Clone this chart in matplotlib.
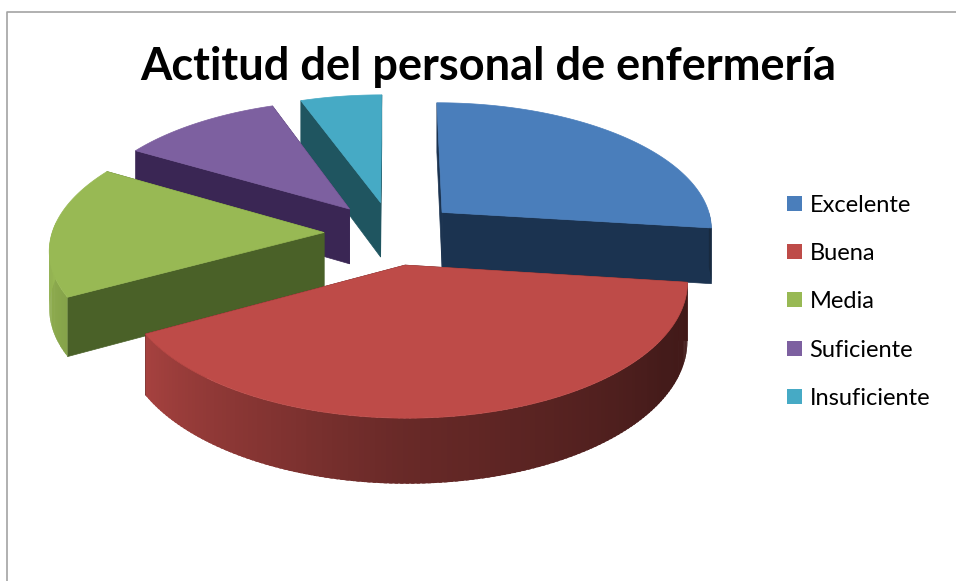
import numpy as np
import matplotlib
matplotlib.use("Agg")
import matplotlib.pyplot as plt
from matplotlib.patches import Rectangle

title = "Actitud del personal de enfermería"
categories = ["Excelente", "Buena", "Media", "Suficiente", "Insuficiente"]
values = [27, 40, 16.5, 11, 5.5]
top_colors = ["#4a7ebb", "#be4b48", "#98b954", "#7d60a0", "#46aac5"]
cut_colors = ["#1b3350", "#431515", "#4a6128", "#3a2654", "#1f5560"]

# pie geometry in pixels
CX, CY = 392, 233
RX, RY = 272, 127
DEPTH = 56
PERSP = 0.117
EXPLODE = 0.25

# rim shading against the angle, clockwise from the top
shade_angle = [90, 120, 180, 241, 275]
shade_level = [0.33, 0.36, 0.55, 0.88, 1.0]


def project(x, y, z=0.0):
    s = 1 / (1 - PERSP * y)
    return CX + RX * x * s, CY + RY * y * s + DEPTH * z * s


def rim_point(x0, y0, theta):
    return x0 + np.sin(theta), y0 - np.cos(theta)


def shaded(color, level):
    rgb = np.array(matplotlib.colors.to_rgb(color))
    return tuple(np.clip(rgb * level, 0, 1))


def draw_cut(ax, x0, y0, theta, color):
    xr, yr = rim_point(x0, y0, theta)
    corners = [project(x0, y0), project(xr, yr), project(xr, yr, 1), project(x0, y0, 1)]
    px, py = zip(*corners)
    ax.fill(px, py, color=color, lw=0.5, zorder=2)


def draw_rim(ax, x0, y0, start, end, top):
    # only the part of the rim facing the viewer
    lo, hi = max(start, 90), min(end, 275)
    if hi <= lo:
        return
    steps = np.radians(np.linspace(lo, hi, int(hi - lo) + 2))
    step = steps[1] - steps[0]
    for t0 in steps[:-1]:
        # each strip runs under the next one so no seams show
        t1 = min(t0 + 1.6 * step, steps[-1])
        xa, ya = rim_point(x0, y0, t0)
        xb, yb = rim_point(x0, y0, t1)
        quad = [project(xa, ya), project(xb, yb), project(xb, yb, 1), project(xa, ya, 1)]
        px, py = zip(*quad)
        level = np.interp(np.degrees(t0), shade_angle, shade_level)
        ax.fill(px, py, color=shaded(top, level), lw=0, zorder=2)


def draw_slice(ax, start, end, top, cut):
    mid = np.radians((start + end) / 2)
    x0, y0 = EXPLODE * np.sin(mid), -EXPLODE * np.cos(mid)
    a0, a1 = np.radians(start), np.radians(end)

    draw_cut(ax, x0, y0, a0, cut)
    draw_cut(ax, x0, y0, a1, cut)
    draw_rim(ax, x0, y0, start, end, top)

    # top face
    tx, ty = rim_point(x0, y0, np.linspace(a0, a1, 120))
    px, py = project(np.r_[x0, tx], np.r_[y0, ty])
    ax.fill(px, py, color=top, lw=0.5, zorder=2)


fig = plt.figure(figsize=(9.56, 5.81), dpi=100)
ax = fig.add_axes([0, 0, 1, 1])
ax.set_xlim(0, 956)
ax.set_ylim(581, 0)
ax.axis("off")

# chart area frame, only its top and left edges are in view
ax.plot([956, 7, 7], [12, 12, 581], color="#a3a3a3", lw=1.2, zorder=1)

ends = np.cumsum(values) / np.sum(values) * 360
starts = np.r_[0, ends[:-1]]

# back slices first so the nearer ones cover them
for i in [4, 3, 0, 2, 1]:
    draw_slice(ax, starts[i], ends[i], top_colors[i], cut_colors[i])

ax.text(488, 80, title, family="Lato", fontweight="bold", fontsize=32.5,
        ha="center", va="baseline", color="black", zorder=3)

legend_y = [203.5, 251.5, 299.5, 348.5, 396.5]
for name, color, y in zip(categories, top_colors, legend_y):
    ax.add_patch(Rectangle((787, y - 7.5), 15, 15, facecolor=color, edgecolor="none", zorder=3))
    ax.text(809.5, y + 2, name, family="Lato", fontsize=17, ha="left", va="center",
            color="black", zorder=3)

fig.savefig("out.png", dpi=100, facecolor="white")
